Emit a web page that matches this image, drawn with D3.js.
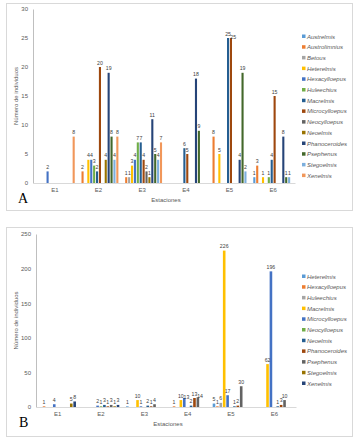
<!DOCTYPE html>
<html><head><meta charset="utf-8">
<script src="https://cdn.jsdelivr.net/npm/d3@7"></script>
<style>body{margin:0;background:#fff}svg{display:block;font-family:"Liberation Sans",Arial,sans-serif}</style>
</head><body><svg id="c" width="358" height="439"></svg>
<script>
const stations = ["E1","E2","E3","E4","E5","E6"];
const yTicksA = [0,5,10,15,20,25,30];
const yTicksB = [0,50,100,150,200,250];

// Panel A series (14 genera)
const seriesA = ["Austrelmis","Austrolimnius","Betous","Heterelmis","Hexacylloepus","Huleechius","Macrelmis","Microcylloepus","Neocylloepus","Neoelmis","Phanoceroides","Psephenus","Stegoelmis","Xenelmis"];
const colorsA = ["#5B9BD5","#ED7D31","#A5A5A5","#FFC000","#4472C4","#70AD47","#255E91","#9E480E","#636363","#997300","#264478","#43682B","#7CAFDD","#F1975A"];
const austrelmisA     = [0,0,0,0,0,1];
const austrolimniusA  = [0,2,1,0,8,3];
const betousA         = [0,0,1,0,0,0];
const heterelmisA     = [0,4,3,0,5,1];
const hexacylloepusA  = [2,4,4,0,0,0];
const huleechiusA     = [0,3,7,0,0,1];
const macrelmisA      = [0,2,7,6,25,4];
const microcylloepusA = [0,20,4,5,25,15];
const neocylloepusA   = [0,0,2,0,0,0];
const neoelmisA       = [0,4,1,0,0,0];
const phanoceroidesA  = [0,19,11,18,4,8];
const psephenusA      = [0,8,5,9,19,1];
const stegoelmisA     = [0,4,4,0,2,1];
const xenelmisA       = [8,8,7,0,0,0];
const valuesA = [austrelmisA,austrolimniusA,betousA,heterelmisA,hexacylloepusA,huleechiusA,macrelmisA,microcylloepusA,neocylloepusA,neoelmisA,phanoceroidesA,psephenusA,stegoelmisA,xenelmisA];

// Panel B series (11 genera)
const seriesB = ["Heterelmis","Hexacylloepus","Huleechius","Macrelmis","Microcylloepus","Neocylloepus","Neoelmis","Phanoceroides","Psephenus","Stegoelmis","Xenelmis"];
const colorsB = ["#5B9BD5","#ED7D31","#A5A5A5","#FFC000","#4472C4","#70AD47","#255E91","#9E480E","#636363","#997300","#264478"];
const heterelmisB     = [0,0,1,0,5,0];
const hexacylloepusB  = [1,0,0,1,1,0];
const huleechiusB     = [0,0,0,0,6,0];
const macrelmisB      = [0,0,10,10,226,62];
const microcylloepusB = [4,2,1,13,17,196];
const neocylloepusB   = [0,1,0,0,0,0];
const neoelmisB       = [0,3,2,2,1,1];
const phanoceroidesB  = [0,1,1,13,2,3];
const psephenusB      = [0,3,4,14,30,10];
const stegoelmisB     = [5,1,0,0,0,0];
const xenelmisB       = [8,3,0,0,0,0];
const valuesB = [heterelmisB,hexacylloepusB,huleechiusB,macrelmisB,microcylloepusB,neocylloepusB,neoelmisB,phanoceroidesB,psephenusB,stegoelmisB,xenelmisB];

const svg = d3.select("#c");

function panel(cfg){
  const g = svg.append("g");
  g.append("rect").attr("x",cfg.box[0]+0.5).attr("y",cfg.box[1]+0.5)
    .attr("width",cfg.box[2]-cfg.box[0]).attr("height",cfg.box[3]-cfg.box[1])
    .attr("fill","#fff").attr("stroke","#d9d9d9");
  const x = d3.scaleBand().domain(stations).range([cfg.x0,cfg.x1]);
  const y = d3.scaleLinear().domain([0,cfg.ymax]).range([cfg.y0,cfg.y1]);
  const xs = d3.scaleBand().domain(cfg.series).range([0,x.bandwidth()]).paddingOuter(cfg.pad).paddingInner(0);
  // y axis
  const ya = d3.axisLeft(y).tickValues(cfg.yticks).tickSize(0).tickPadding(5);
  const yg = g.append("g").attr("transform",`translate(${cfg.x0},0)`).call(ya);
  yg.select(".domain").attr("stroke","#bfbfbf");
  yg.selectAll("text").attr("font-size",6).attr("fill","#595959");
  // x axis
  const xa = d3.axisBottom(x).tickSize(0).tickPadding(5);
  const xg = g.append("g").attr("transform",`translate(0,${cfg.y0})`).call(xa);
  xg.select(".domain").attr("stroke","#d9d9d9");
  xg.selectAll("text").attr("font-size",6).attr("fill","#595959");
  // bars
  const barG = g.append("g"), labG = g.append("g");
  const fs = 5.2, cw = 2.9;
  stations.forEach((st,j)=>{
    const placed = [];
    cfg.series.forEach((s,i)=>{
      const v = cfg.values[i][j];
      if(!v) return;
      const cx = x(st) + xs(s) + xs.bandwidth()/2;
      barG.append("rect").attr("x",cx-cfg.bw/2).attr("y",y(v)).attr("width",cfg.bw)
        .attr("height",y(0)-y(v)).attr("fill",cfg.colors[i]);
      const w = String(v).length*cw;
      let lx = cx, ly = y(v)-2.5;
      const hit = (a)=> Math.abs(a.x-lx) < (a.w+w)/2 && Math.abs(a.y-ly) < fs-0.5;
      let prev = placed.find(hit);
      if(prev){
        const need = (prev.w+w)/2 - Math.abs(prev.x-lx);
        lx += Math.min(need+0.3, 2.2);
        if(placed.find(hit)) ly += 3;
      }
      placed.push({x:lx,y:ly,w:w});
      labG.append("text").attr("x",lx).attr("y",ly).attr("text-anchor","middle")
        .attr("font-size",fs).attr("fill","#404040").text(v);
    });
  });
  // titles
  g.append("text").attr("transform",`translate(${cfg.ytx},${(cfg.y0+cfg.y1)/2}) rotate(-90)`)
    .attr("text-anchor","middle").attr("font-size",6).attr("fill","#595959").text("Número de individuos");
  g.append("text").attr("x",(cfg.x0+cfg.x1)/2+2).attr("y",cfg.y0+19).attr("text-anchor","middle")
    .attr("font-size",6).attr("fill","#595959").text("Estaciones");
  g.append("text").attr("x",cfg.letter[0]).attr("y",cfg.letter[1])
    .attr("font-family","'Liberation Serif','Times New Roman',serif").attr("font-size",14).attr("fill","#000").text(cfg.name);
  // legend
  const lg = g.append("g");
  cfg.series.forEach((s,i)=>{
    const ly = cfg.ly + i*10.7;
    lg.append("rect").attr("x",302).attr("y",ly-2.5).attr("width",3.5).attr("height",3.5).attr("fill",cfg.colors[i]);
    lg.append("text").attr("x",307).attr("y",ly+1.5).attr("font-size",6).attr("font-style","italic")
      .attr("fill","#595959").text(s);
  });
}

panel({name:"A",box:[6,3,352,210],x0:33,x1:295,y0:183,y1:9,ymax:30,yticks:yTicksA,
  series:seriesA,colors:colorsA,values:valuesA,pad:0.53,bw:2.1,ytx:18,letter:[18,203],ly:37});
panel({name:"B",box:[6,227,352,436],x0:36,x1:296,y0:407,y1:234,ymax:250,yticks:yTicksB,
  series:seriesB,colors:colorsB,values:valuesB,pad:0.87,bw:2.6,ytx:18,letter:[19,427],ly:277});
</script></body></html>
